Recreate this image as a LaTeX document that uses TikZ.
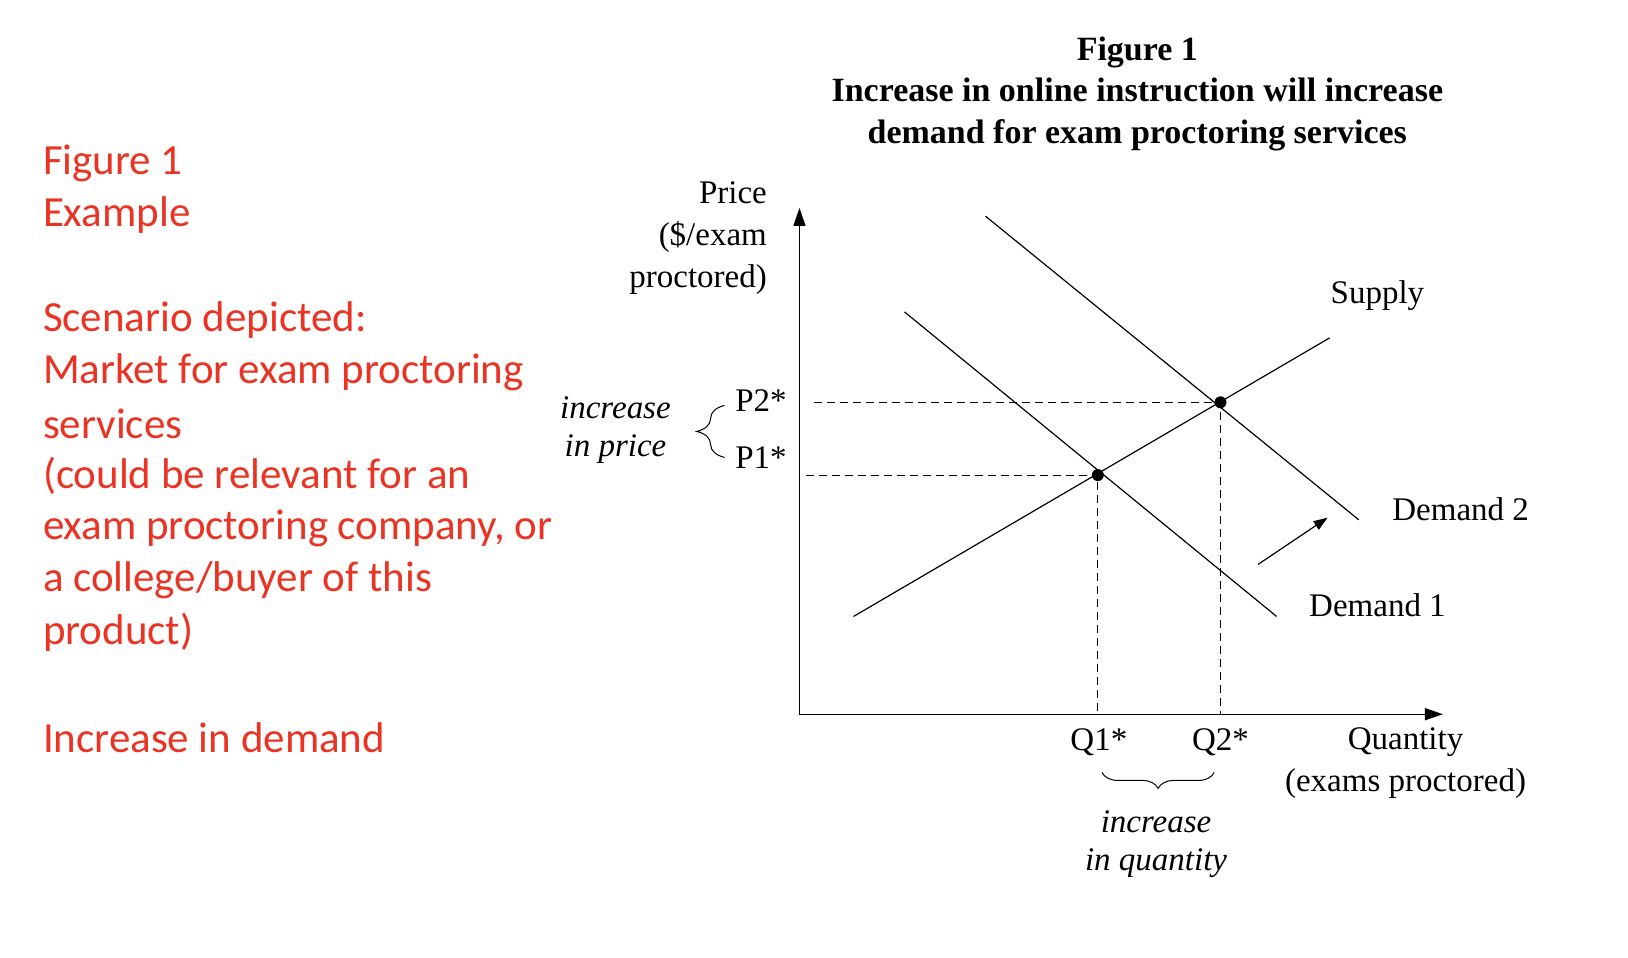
\documentclass[tikz,border=0pt]{standalone}
\usepackage{fontspec}
\setmainfont{Liberation Serif}
\newfontfamily\redfont{Carlito}
\usetikzlibrary{decorations.pathreplacing,arrows.meta}
\definecolor{myred}{RGB}{234,51,35}
\begin{document}
\begin{tikzpicture}[x=0.52pt,y=-0.52pt,
  lbl/.style={font=\fontsize{16.5}{20.8}\selectfont,inner sep=0pt},
  ilbl/.style={font=\fontsize{16.5}{20.8}\selectfont\itshape,inner sep=0pt},
  red/.style={font=\redfont\fontsize{21.5}{26}\selectfont,text=myred,anchor=west,inner sep=0pt},
  crv/.style={line width=0.6pt},
  dsh/.style={dashed,line width=0.5pt,dash pattern=on 4pt off 2.5pt},
  dot/.style={circle,fill=black,minimum size=6pt,inner sep=0pt}]
\useasboundingbox (0,0) rectangle (1566,921);
% red text
\node[red] (r1) at (41,157) {Figure 1};
\node[red] (r2) at (41,207) {Example};
\node[red] (r3) at (41,308) {Scenario depicted:};
\node[red] (r4) at (41,358) {Market for exam proctoring};
\node[red] (r5) at (41,408) {services};
\node[red] (r6) at (41,458) {(could be relevant for an};
\node[red] (r7) at (41,508) {exam proctoring company, or};
\node[red] (r8) at (41,558) {a college/buyer of this};
\node[red] (r9) at (41,608) {product)};
\node[red] (r10) at (41,710) {Increase in demand};
% title
\node[lbl,font=\fontsize{17}{20.8}\selectfont\bfseries,align=center] (title) at (1094,90) {Figure 1\\Increase in online instruction will increase\\demand for exam proctoring services};
% axes
\coordinate (O) at (769,687);
\coordinate (ytop) at (769,200);
\coordinate (xend) at (1388,687);
\draw[line width=0.6pt,-{Triangle[length=9pt,width=6pt]}] (O) -- (ytop);
\draw[line width=0.6pt,-{Triangle[length=9pt,width=6pt]}] (O) -- (xend);
\node[lbl,align=right,anchor=east] (price) at (738,229) {Price\\(\$/exam\\proctored)};
\node[lbl,align=center] (qty) at (1352,734) {Quantity\\(exams proctored)};
% curves
\coordinate (s1) at (821,593); \coordinate (s2) at (1279,325);
\coordinate (d1a) at (870,300); \coordinate (d1b) at (1228,593);
\coordinate (d2a) at (948,208); \coordinate (d2b) at (1307,500);
\draw[crv] (s1) -- (s2);
\draw[crv] (d1a) -- (d1b);
\draw[crv] (d2a) -- (d2b);
\node[lbl] (supply) at (1325,284) {Supply};
\node[lbl] (dem2) at (1405,490) {Demand 2};
\node[lbl] (dem1) at (1325,582) {Demand 1};
% equilibria
\node[dot] (e1) at (1056,457) {};
\node[dot] (e2) at (1174,387) {};
\coordinate (p1l) at (775,457); \coordinate (p2l) at (783,387);
\coordinate (q1b) at (1056,687); \coordinate (q2b) at (1174,687);
\draw[dsh] (p1l) -- (e1.center) -- (q1b);
\draw[dsh] (p2l) -- (e2.center) -- (q2b);
% shift arrow
\coordinate (a1) at (1210,543); \coordinate (a2) at (1277,498);
\draw[line width=0.6pt,-{Triangle[length=7pt,width=5pt]}] (a1) -- (a2);
% price labels
\node[lbl] (p2) at (732,385) {P2*};
\node[lbl] (p1) at (732,440) {P1*};
\coordinate (pb1) at (697,440) ; \coordinate (pb2) at (697,390);
\draw[line width=0.5pt,decorate,decoration={brace,amplitude=14pt}] (pb1) -- (pb2);
\node[ilbl] (ip1) at (592,392) {increase};
\node[ilbl] (ip2) at (592,432) {in price};
% quantity labels
\node[lbl] (q1) at (1057,714) {Q1*};
\node[lbl] (q2) at (1174,714) {Q2*};
\coordinate (qb1) at (1060,743); \coordinate (qb2) at (1168,743);
\draw[line width=0.5pt,decorate,decoration={brace,mirror,amplitude=8pt}] (qb1) -- (qb2);
\node[ilbl] (iq1) at (1112,790) {increase};
\node[ilbl] (iq2) at (1112,830) {in quantity};
\end{tikzpicture}
\end{document}
